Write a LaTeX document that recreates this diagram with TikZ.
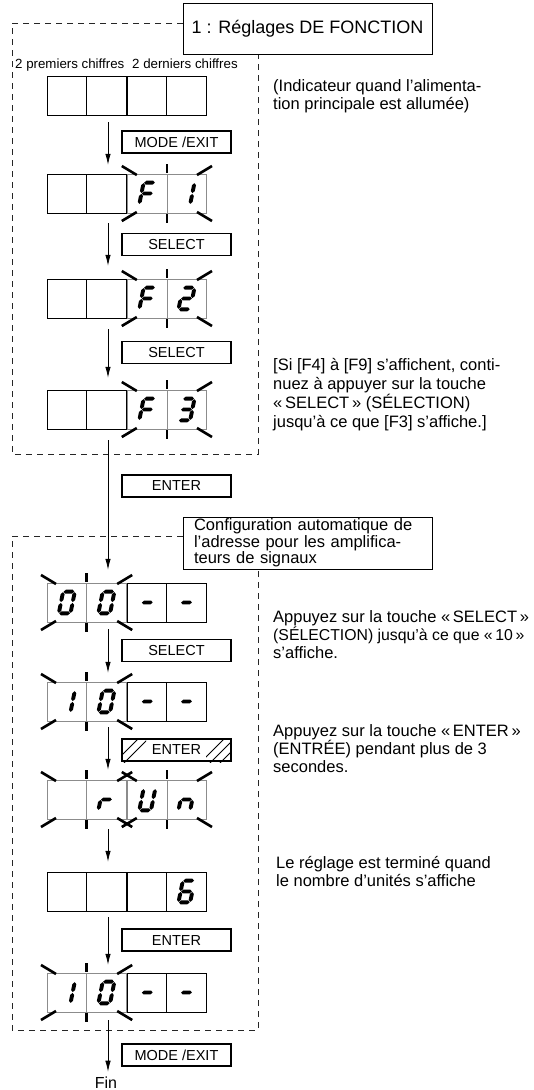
\documentclass[tikz,border=0pt]{standalone}
\usepackage{fontspec}
\setmainfont{Liberation Sans}
\usetikzlibrary{arrows.meta}
\newcommand\sgA{\fill (-6,-12) -- (-3.8,-14.2) -- (3.8,-14.2) -- (6,-12) -- (3.8,-9.8) -- (-3.8,-9.8) -- cycle;}
\newcommand\sgG{\fill (-6,0) -- (-3.8,-2.2) -- (3.8,-2.2) -- (6,0) -- (3.8,2.2) -- (-3.8,2.2) -- cycle;}
\newcommand\sgD{\fill (-6,12) -- (-3.8,9.8) -- (3.8,9.8) -- (6,12) -- (3.8,14.2) -- (-3.8,14.2) -- cycle;}
\newcommand\sgF{\fill (-6.5,-11.5) -- (-4.3,-9.3) -- (-4.3,-2.7) -- (-6.5,-0.5) -- (-8.7,-2.7) -- (-8.7,-9.3) -- cycle;}
\newcommand\sgE{\fill (-6.5,0.5) -- (-4.3,2.7) -- (-4.3,9.3) -- (-6.5,11.5) -- (-8.7,9.3) -- (-8.7,2.7) -- cycle;}
\newcommand\sgB{\fill (6.5,-11.5) -- (8.7,-9.3) -- (8.7,-2.7) -- (6.5,-0.5) -- (4.3,-2.7) -- (4.3,-9.3) -- cycle;}
\newcommand\sgC{\fill (6.5,0.5) -- (8.7,2.7) -- (8.7,9.3) -- (6.5,11.5) -- (4.3,9.3) -- (4.3,2.7) -- cycle;}
\newcommand\glyph[3]{\begin{scope}[shift={(#1,#2)},xslant=0.2,scale=0.9]#3\end{scope}}
\newcommand\pairN[3]{%
  \draw[cellline] (#1,#3) rectangle (#2,#3+39);
  \draw[cellline] ({(#1+#2)/2},#3) -- ({(#1+#2)/2},#3+39);}
\newcommand\pairB[3]{%
  \draw[blinkline] (#1,#3) rectangle (#2,#3+39);
  \draw[blinkline] ({(#1+#2)/2},#3) -- ({(#1+#2)/2},#3+39);
  \draw[flashmk] (#1-6,#3-8) -- (#1+9,#3+1);
  \draw[flashmk] (#2+6,#3-8) -- (#2-9,#3+1);
  \draw[flashmk] ({(#1+#2)/2},#3-10) -- ({(#1+#2)/2},#3-1);
  \draw[flashmk] (#1-6,#3+47) -- (#1+9,#3+38);
  \draw[flashmk] (#2+6,#3+47) -- (#2-9,#3+38);
  \draw[flashmk] ({(#1+#2)/2},#3+40) -- ({(#1+#2)/2},#3+49);}
\newcommand\dnode[2]{\node[draw=none,minimum width=159pt,minimum height=39pt,inner sep=0] (#1) at (126.5,#2+19.5) {};}
\begin{document}
\begin{tikzpicture}[x=1pt,y=-1pt,
  keybox/.style={draw,line width=1.8pt,fill=white,minimum width=109pt,minimum height=22pt,inner sep=0,font=\fontsize{14.5}{16}\selectfont},
  titlebox/.style={draw,line width=0.8pt,fill=white,inner sep=0},
  arr/.style={line width=0.8pt,-{Latex[length=11pt,width=5.5pt]}},
  dashedbox/.style={line width=0.9pt,dash pattern=on 6pt off 5pt,black!85},
  note/.style={anchor=base west,inner sep=0,font=\fontsize{16.5}{18.5}\selectfont},
  hdr/.style={anchor=base west,inner sep=0,font=\fontsize{13.3}{15}\selectfont},
  cellline/.style={line width=0.9pt},
  blinkline/.style={line width=0.7pt,black!45},
  flashmk/.style={line width=2.6pt},
  hatchln/.style={line width=0.8pt}]
\useasboundingbox (0,0) rectangle (533,1090);

% dashed frames
\draw[dashedbox] (183,23) -- (12,23) -- (12,454) -- (258,454) -- (258,54);
\draw[dashedbox] (183,536) -- (12,536) -- (12,1030) -- (258,1030) -- (258,569);

% titles
\node[titlebox,minimum width=249pt,minimum height=51pt,font=\fontsize{18}{20}\selectfont] (t1) at (307.5,28.5) {1 : Réglages DE FONCTION};
\node[titlebox,minimum width=249pt,minimum height=52pt,text width=227pt,inner xsep=11pt,align=left,font=\fontsize{16.5}{15}\selectfont] (t2) at (307.5,543) {Configuration automatique de\\l’adresse pour les amplifica-\\teurs de signaux};

% header
\node[hdr] (h1) at (15,68) {2 premiers chiffres};
\node[hdr] (h2) at (132,68) {2 derniers chiffres};

% displays
\pairN{47}{126.2}{76}\pairN{127.8}{206}{76}\dnode{d1}{76}
\pairN{47}{126.2}{174}\pairB{127.8}{206}{174}\dnode{d2}{174}
\glyph{147.3}{193.5}{\sgA\sgF\sgE\sgG}\glyph{186.5}{193.5}{\sgB\sgC}
\pairN{47}{126.2}{279}\pairB{127.8}{206}{279}\dnode{d3}{279}
\glyph{147.3}{298.5}{\sgA\sgF\sgE\sgG}\glyph{186.5}{298.5}{\sgA\sgB\sgG\sgE\sgD}
\pairN{47}{126.2}{390}\pairB{127.8}{206}{390}\dnode{d4}{390}
\glyph{147.3}{409.5}{\sgA\sgF\sgE\sgG}\glyph{186.5}{409.5}{\sgA\sgB\sgG\sgC\sgD}
\pairB{47}{126.2}{583}\pairN{127.8}{206}{583}\dnode{d5}{583}
\glyph{66.8}{602.5}{\sgA\sgB\sgC\sgD\sgE\sgF}\glyph{106.4}{602.5}{\sgA\sgB\sgC\sgD\sgE\sgF}
\glyph{147.3}{602.5}{\sgG}\glyph{186.5}{602.5}{\sgG}
\pairB{47}{126.2}{682}\pairN{127.8}{206}{682}\dnode{d6}{682}
\glyph{66.8}{701.5}{\sgB\sgC}\glyph{106.4}{701.5}{\sgA\sgB\sgC\sgD\sgE\sgF}
\glyph{147.3}{701.5}{\sgG}\glyph{186.5}{701.5}{\sgG}
\pairB{47}{126.2}{780}\pairB{127.8}{206}{780}\dnode{d7}{780}
\glyph{106.4}{799.5}{\sgG\sgE}\glyph{147.3}{799.5}{\sgB\sgC\sgD\sgE\sgF}\glyph{186.5}{799.5}{\sgG\sgC\sgE}
\pairN{47}{126.2}{872}\pairN{127.8}{206}{872}\dnode{d8}{872}
\glyph{186.5}{891.5}{\sgA\sgF\sgG\sgE\sgD\sgC}
\pairB{47}{126.2}{973}\pairN{127.8}{206}{973}\dnode{d9}{973}
\glyph{66.8}{992.5}{\sgB\sgC}\glyph{106.4}{992.5}{\sgA\sgB\sgC\sgD\sgE\sgF}
\glyph{147.3}{992.5}{\sgG}\glyph{186.5}{992.5}{\sgG}

% keys
\node[keybox] (k1) at (176.5,142) {MODE /EXIT};
\node[keybox] (k2) at (176.5,244.5) {SELECT};
\node[keybox] (k3) at (176.5,352.5) {SELECT};
\node[keybox] (k4) at (176.5,486) {ENTER};
\node[keybox] (k5) at (176.5,650.5) {SELECT};
\node[keybox] (k6) at (176.5,750) {ENTER};
\begin{scope}
  \clip (122,738) rectangle (146,762);
  \foreach \hx in {114,124} \draw[hatchln] (\hx,763) -- (\hx+26,737);
\end{scope}
\begin{scope}
  \clip (206,738) rectangle (231,762);
  \foreach \hx in {200,210,220} \draw[hatchln] (\hx,763) -- (\hx+26,737);
\end{scope}
\node[keybox] (k7) at (176.5,940) {ENTER};
\node[keybox] (k8) at (176.5,1055) {MODE /EXIT};

% Fin
\node[anchor=base,inner sep=0,font=\fontsize{16}{18}\selectfont] (fin) at (106,1088) {Fin};

% arrows
\draw[arr] ([xshift=-18.5pt,yshift=-7pt]d1.south) -- ([xshift=-18.5pt,yshift=9pt]d2.north);
\draw[arr] ([xshift=-18.5pt,yshift=-10pt]d2.south) -- ([xshift=-18.5pt,yshift=13pt]d3.north);
\draw[arr] ([xshift=-18.5pt,yshift=-11pt]d3.south) -- ([xshift=-18.5pt,yshift=12pt]d4.north);
\draw[arr] ([xshift=-18.5pt,yshift=-11pt]d4.south) -- ([xshift=-18.5pt,yshift=13pt]d5.north);
\draw[arr] ([xshift=-18.5pt,yshift=-7pt]d5.south) -- ([xshift=-18.5pt,yshift=9pt]d6.north);
\draw[arr] ([xshift=-18.5pt,yshift=-6pt]d6.south) -- ([xshift=-18.5pt,yshift=10pt]d7.north);
\draw[arr] ([xshift=-18.5pt,yshift=-10pt]d7.south) -- ([xshift=-18.5pt,yshift=10pt]d8.north);
\draw[arr] ([xshift=-18.5pt,yshift=-6pt]d8.south) -- ([xshift=-18.5pt,yshift=8pt]d9.north);
\draw[arr] ([xshift=-18.5pt,yshift=-8pt]d9.south) -- ([xshift=2pt,yshift=4.5pt]fin.north);

% notes
\node[note] (n1) at (273,91) {(Indicateur quand l’alimenta-};
\node[note] (n2) at (273,109) {tion principale est allumée)};
\node[note] (n3) at (273,370) {[Si [F4] à [F9] s’affichent, conti-};
\node[note] (n4) at (273,389) {nuez à appuyer sur la touche};
\node[note] (n5) at (273,408) {«\,SELECT\,» (SÉLECTION)};
\node[note] (n6) at (273,427) {jusqu’à ce que [F3] s’affiche.]};
\node[note] (n7) at (273,622) {Appuyez sur la touche «\,SELECT\,»};
\node[note,font=\fontsize{15.8}{18.5}\selectfont] (n8) at (273,640) {(SÉLECTION) jusqu’à ce que «\,10\,»};
\node[note] (n9) at (273,658) {s’affiche.};
\node[note] (n10) at (273,736) {Appuyez sur la touche «\,ENTER\,»};
\node[note] (n11) at (273,754) {(ENTRÉE) pendant plus de 3};
\node[note] (n12) at (273,772) {secondes.};
\node[note] (n13) at (276,868) {Le réglage est terminé quand};
\node[note] (n14) at (276,886) {le nombre d’unités s’affiche};
\end{tikzpicture}
\end{document}
